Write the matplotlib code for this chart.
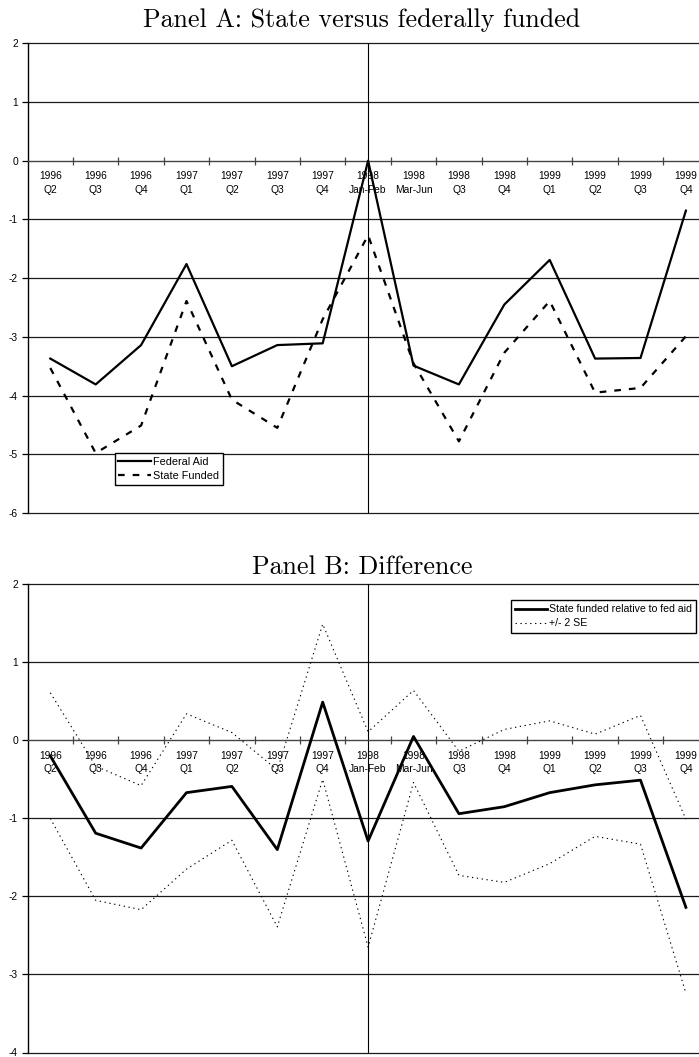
import matplotlib
matplotlib.use("Agg")
import matplotlib.pyplot as plt
from matplotlib.ticker import FixedLocator, NullFormatter

years = ["1996", "1996", "1996", "1997", "1997", "1997", "1997", "1998", "1998",
         "1998", "1998", "1999", "1999", "1999", "1999"]
periods = ["Q2", "Q3", "Q4", "Q1", "Q2", "Q3", "Q4", "Jan-Feb", "Mar-Jun",
           "Q3", "Q4", "Q1", "Q2", "Q3", "Q4"]
tick_labels = [f"{y}\n{p}" for y, p in zip(years, periods)]

federal_aid = [-3.37, -3.81, -3.14, -1.76, -3.50, -3.14, -3.11, 0.0, -3.49,
               -3.81, -2.45, -1.69, -3.37, -3.36, -0.85]
state_funded = [-3.53, -4.98, -4.51, -2.39, -4.07, -4.55, -2.70, -1.27, -3.45,
                -4.78, -3.27, -2.39, -3.95, -3.87, -2.99]

difference = [-0.20, -1.19, -1.38, -0.67, -0.59, -1.40, 0.49, -1.29, 0.05,
              -0.94, -0.85, -0.67, -0.57, -0.51, -2.14]
upper_se = [0.61, -0.33, -0.58, 0.34, 0.10, -0.38, 1.49, 0.11, 0.64,
            -0.14, 0.14, 0.25, 0.08, 0.32, -1.01]
lower_se = [-1.00, -2.05, -2.17, -1.65, -1.28, -2.39, -0.50, -2.65, -0.54,
            -1.73, -1.82, -1.58, -1.23, -1.33, -3.24]

plt.rcParams['font.family'] = ['Liberation Sans', 'DejaVu Sans']
W, H = 699, 1057
fig = plt.figure(figsize=(W / 100, H / 100), dpi=100)

left = 27.6 / W
width = 681 / W
axA = fig.add_axes([left, 1 - 513 / H, width, (513 - 43.3) / H])
axB = fig.add_axes([left, 1 - 1052.5 / H, width, (1052.5 - 584.3) / H])

x = list(range(len(tick_labels)))
TICK_FS = 7.4


def style(ax, ymin, ymax):
    ax.set_xlim(-0.5, len(x) - 0.5)
    ax.set_ylim(ymin, ymax)
    levels = list(range(ymin, ymax + 1))
    ax.set_yticks(levels)
    ax.set_yticklabels([str(v) for v in levels], fontsize=TICK_FS)
    ax.hlines([v for v in levels if v != 0], -0.5, len(x) - 0.5,
              color='#1a1a1a', linewidth=0.9, zorder=1, clip_on=False)
    for s in ['top', 'right']:
        ax.spines[s].set_visible(False)
    ax.spines['left'].set_linewidth(1.0)
    ax.spines['bottom'].set_position(('data', 0))
    ax.spines['bottom'].set_color('#444444')
    ax.spines['bottom'].set_linewidth(1.0)
    ax.set_xticks(x)
    ax.set_xticklabels(tick_labels, fontsize=TICK_FS, linespacing=1.45)
    ax.xaxis.set_minor_locator(FixedLocator([i + 0.5 for i in range(len(x) - 1)]))
    ax.xaxis.set_minor_formatter(NullFormatter())
    ax.tick_params(axis='x', which='major', length=0, pad=7.5)
    ax.tick_params(axis='x', which='minor', direction='inout', length=6,
                   width=0.9, color='#444444')
    ax.tick_params(axis='y', direction='out', length=4, width=0.9, pad=3)
    ax.axvline(7, color='black', linewidth=0.8, zorder=1.5)
    ax.patch.set_alpha(0)


style(axA, -6, 2)
axA.plot(x, federal_aid, color='black', linewidth=1.6, label='Federal Aid',
         zorder=3, clip_on=False)
axA.plot(x, state_funded, color='black', linewidth=1.6, dashes=(3, 3.6),
         label='State Funded', zorder=3, clip_on=False)
axA.legend(loc='upper left', bbox_to_anchor=(114.6 / W, 1 - 453.3 / H),
           bbox_transform=fig.transFigure, fontsize=7.8, frameon=True,
           fancybox=False, edgecolor='black', framealpha=1, handlelength=3.0,
           borderpad=0.35, labelspacing=0.35, handletextpad=0.2,
           borderaxespad=0)

style(axB, -4, 2)
axB.plot(x, difference, color='black', linewidth=2.0,
         label='State funded relative to fed aid', zorder=3, clip_on=False)
axB.plot(x, upper_se, color='black', linewidth=0.8, dashes=(1.2, 3.2),
         label='+/- 2 SE', zorder=3, clip_on=False)
axB.plot(x, lower_se, color='black', linewidth=0.8, dashes=(1.2, 3.2),
         zorder=3, clip_on=False)
axB.legend(loc='upper left', bbox_to_anchor=(511 / W, 1 - 600 / H),
           bbox_transform=fig.transFigure, fontsize=7.6, frameon=True,
           fancybox=False, edgecolor='black', framealpha=1, handlelength=3.0,
           borderpad=0.4, labelspacing=0.4, handletextpad=0.2,
           borderaxespad=0)

fig.text(362 / W, 1 - 20 / H, 'Panel A: State versus federally funded',
         family='cmr10', fontsize=18.7, ha='center', va='center')
fig.text(362 / W, 1 - 566.7 / H, 'Panel B: Difference',
         family='cmr10', fontsize=18.7, ha='center', va='center')

fig.savefig('out.png', dpi=100)
